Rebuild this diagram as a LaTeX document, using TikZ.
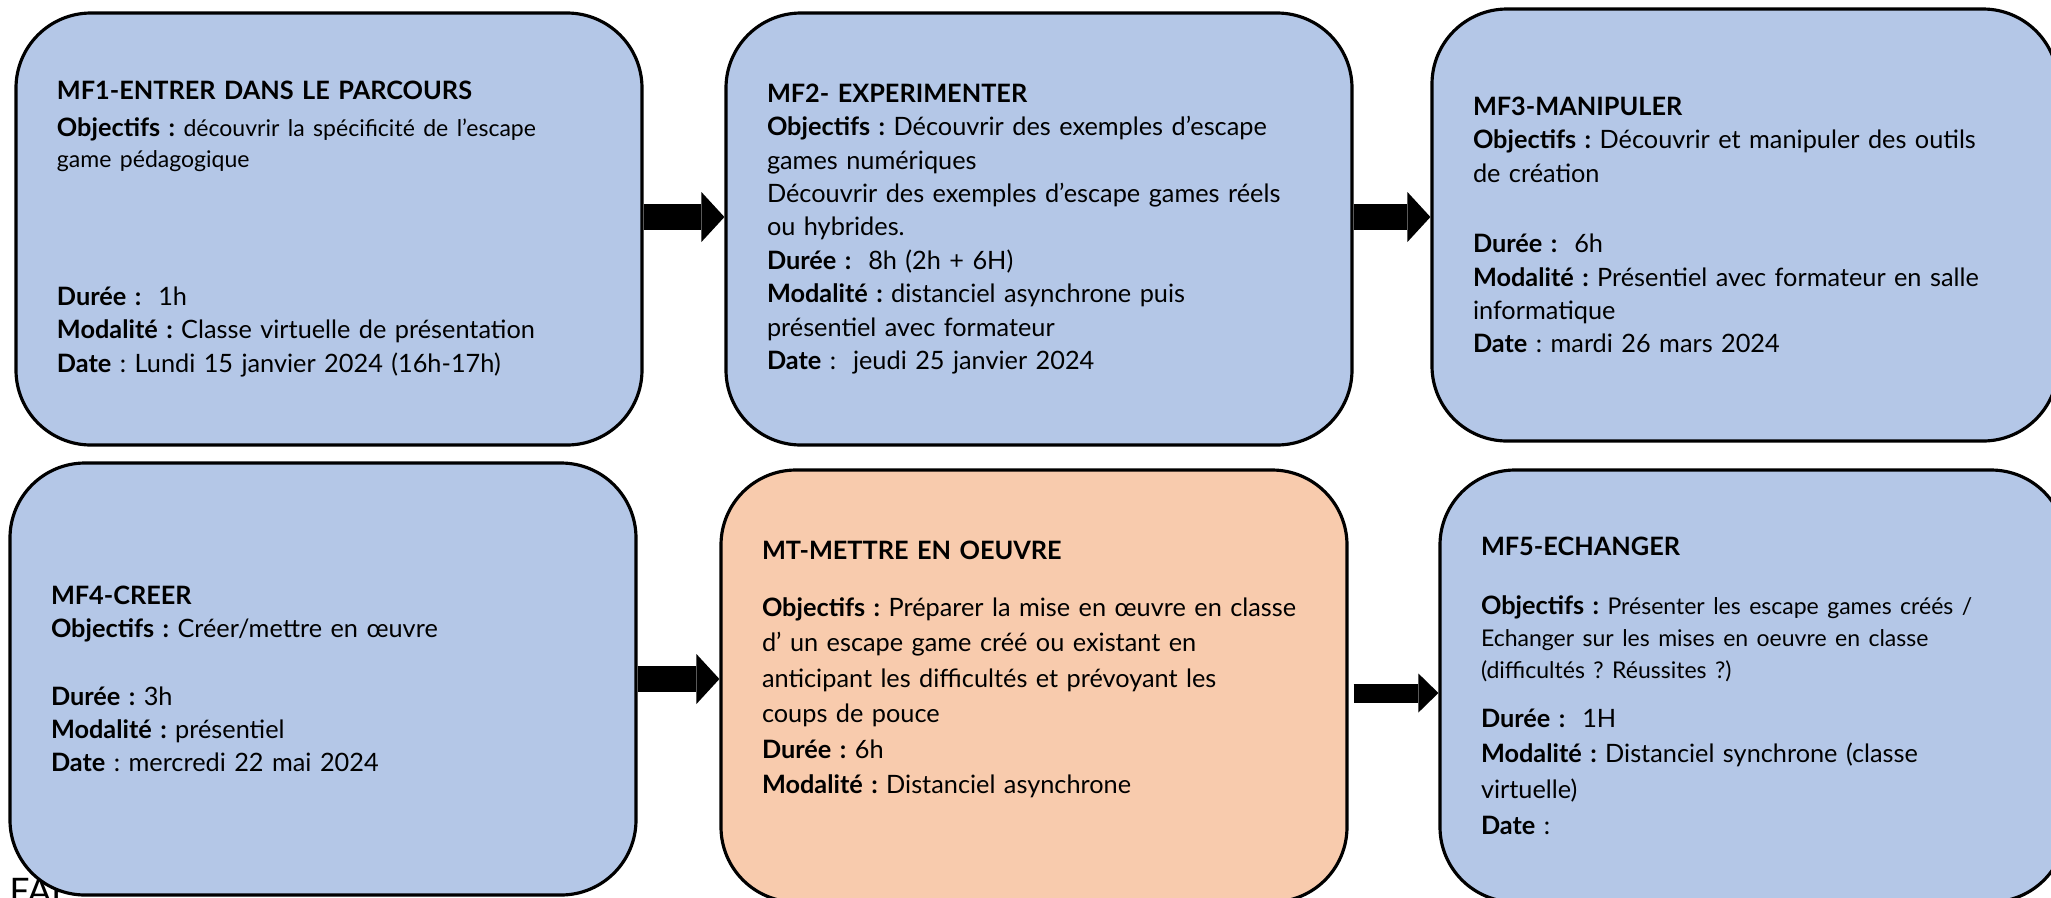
\documentclass[tikz,border=0pt]{standalone}
\usepackage{fontspec}
\setmainfont{Lato}
\usetikzlibrary{arrows.meta}
\definecolor{bleumod}{HTML}{B4C7E7}
\definecolor{orangemod}{HTML}{F8CBAD}
\newcommand{\petit}{\fontsize{6.55}{9.5}\selectfont}
\frenchspacing

\begin{document}
\begin{tikzpicture}
	\tikzstyle{module} = [draw=black, line width=0.9pt, rounded corners=0.75cm, fill=bleumod,
			minimum width=6.26cm, minimum height=4.32cm, inner xsep=0.41cm, inner ysep=0pt,
			text width=5.44cm, align=left, font=\fontsize{7.2}{9.5}\selectfont]
	\tikzstyle{fleche} = [-{Triangle[length=2.3mm, width=5mm, line width=0pt]}, line width=2.6mm]
	\tikzstyle{note} = [anchor=north west, inner sep=0pt, font=\fontsize{10}{12}\selectfont]

	\useasboundingbox (0,0) rectangle (20.51,-8.97);

	\node [note] (faf) at (0.09,-8.78) {FAF};

	\begin{scope}
	\node [module] (mf1) at (3.29,-2.29) {\textbf{MF1-ENTRER DANS LE PARCOURS}\\[0.035cm]
		\textbf{Objectifs :} {\petit découvrir la spécificité de l’escape}\\[-0.025cm]
		{\petit game pédagogique}\\[1.045cm]
		\textbf{Durée :}~ 1h\\
		\textbf{Modalité :} Classe virtuelle de présentation\\
		\textbf{Date} : Lundi 15 janvier 2024 (16h-17h)};
	\node [module] (mf2) at (10.39,-2.29) {\textbf{MF2- EXPERIMENTER}\\
		\textbf{Objectifs :} Découvrir des exemples d’escape\\
		games numériques\\
		Découvrir des exemples d’escape games réels\\
		ou hybrides.\\
		\textbf{Durée :}~ 8h (2h + 6H)\\
		\textbf{Modalité :} distanciel asynchrone puis\\
		présentiel avec formateur\\
		\textbf{Date} :~ jeudi 25 janvier 2024};
	\node [module] (mf3) at (17.45,-2.25) {\textbf{MF3-MANIPULER}\\
		\textbf{Objectifs :} Découvrir et manipuler des outils\\
		de création\\[0.37cm]
		\textbf{Durée :}~ 6h\\
		\textbf{Modalité :} Présentiel avec formateur en salle\\
		informatique\\
		\textbf{Date} : mardi 26 mars 2024};
	\end{scope}

	\begin{scope}
	\node [module] (mf4) at (3.23,-6.79) {\textbf{MF4-CREER}\\
		\textbf{Objectifs :} Créer/mettre en œuvre\\[0.34cm]
		\textbf{Durée :} 3h\\
		\textbf{Modalité :} présentiel\\
		\textbf{Date} : mercredi 22 mai 2024};
	\node [module, fill=orangemod, text depth=2.72cm, font=\fontsize{7.2}{10.1}\selectfont] (mt) at (10.34,-6.86) {\textbf{MT-METTRE EN OEUVRE}\\[0.215cm]
		\textbf{Objectifs :} Préparer la mise en œuvre en classe\\
		d’ un escape game créé ou existant en\\
		anticipant les difficultés et prévoyant les\\
		coups de pouce\\
		\textbf{Durée :} 6h\\
		\textbf{Modalité :} Distanciel asynchrone};
	\node [module, font=\fontsize{7.2}{10.2}\selectfont] (mf5) at (17.53,-6.86) {\textbf{MF5-ECHANGER}\\[0.23cm]
		\textbf{Objectifs :} {\petit Présenter les escape games créés /}\\[-0.04cm]
		{\petit Echanger sur les mises en oeuvre en classe}\\[-0.04cm]
		{\petit (difficultés ? Réussites ?)}\\[0.13cm]
		\textbf{Durée :}~ 1H\\
		\textbf{Modalité :} Distanciel synchrone (classe\\
		virtuelle)\\
		\textbf{Date} :};
	\end{scope}

	\draw [fleche] ([yshift=1.2mm]mf1.east) -- ([yshift=1.2mm]mf1.east -| mf2.west);
	\draw [fleche] ([yshift=1.2mm]mf2.east) -- ([yshift=1.2mm]mf2.east -| mf3.west);
	\draw [fleche] (mf4.east) -- (mf4.east -| mt.west);
	\draw [fleche, line width=1.9mm, -{Triangle[length=2mm, width=3.9mm, line width=0pt]}] ([xshift=0.5mm, yshift=-0.7mm]mt.east) -- ([yshift=-0.7mm]mt.east -| mf5.west);
\end{tikzpicture}
\end{document}
